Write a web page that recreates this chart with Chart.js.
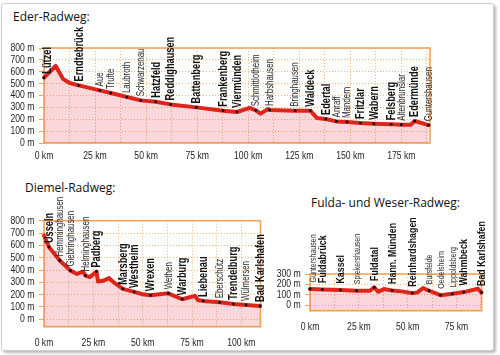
<!DOCTYPE html>
<html><head><meta charset="utf-8">
<script src="https://cdn.jsdelivr.net/npm/chart.js@4/dist/chart.umd.min.js"></script>
<style>
html,body{margin:0;padding:0;background:#fff;}
body{width:500px;height:355px;position:relative;overflow:hidden;font-family:"Open Sans",sans-serif;}
#frame{position:absolute;left:1px;top:3px;width:491px;height:346px;border:1px solid #cfcfcf;border-radius:3px;box-shadow:2px 2px 3px rgba(0,0,0,0.28);background:#fff;}
.t{position:absolute;font-size:12px;color:#111;white-space:nowrap;line-height:16px;}
canvas{position:absolute;}
</style></head><body>
<div id="frame"></div>
<div class="t" style="left:13px;top:9px">Eder-Radweg:</div>
<div class="t" style="left:25px;top:180px">Diemel-Radweg:</div>
<div class="t" style="left:311px;top:195px">Fulda- und Weser-Radweg:</div>
<canvas id="c1"></canvas>
<canvas id="c2"></canvas>
<canvas id="c3"></canvas>
<script>
// ---------- DATA ----------
// Eder-Radweg
const ederKm   = [0, 5.7, 9.3, 12.6, 17, 27.3, 32.7, 40.6, 47.4, 54.7, 62, 74.6, 87.7, 94.5, 100.7, 103.7, 106, 109.7, 110.5, 123, 130.4, 133.7, 138, 143.2, 148.4, 155, 161.5, 170, 175, 179.5, 181.5, 188.3];
const ederM    = [550, 650, 540, 505, 485, 443, 421, 387, 359, 348, 325, 300, 272, 261, 295, 275, 247, 286, 278, 272, 272, 210, 202, 182, 177, 168, 162, 157, 154, 154, 185, 150];
const ederTown = ['Lützel','','','','Erndtebrück','Aue','Trufte','Laubroth','Schwarzenau','Hatzfeld','Reddighausen','Battenberg','Frankenberg','Viermünden','','Schmittlotheim','','','Harbshausen','Bringhausen','Waldeck','','Edertal','Anraff','Mandern','Fritzlar','Wabern','Felsberg','Altenbrunslar','','Edermünde','Guntershausen'];
const ederMajor = ['Lützel','Erndtebrück','Hatzfeld','Reddighausen','Battenberg','Frankenberg','Viermünden','Waldeck','Edertal','Fritzlar','Wabern','Felsberg','Edermünde'];
const ederXTicks = [0,12.5,25,37.5,50,62.5,75,87.5,100,112.5,125,137.5,150,162.5,175,187.5];
const ederYTicks = [0,100,200,300,400,500,600,700,800];

// Diemel-Radweg
const diemelKm   = [0, 2.5, 8, 13.4, 16.7, 19.8, 21, 23.2, 26.6, 27.4, 29.9, 33, 35.9, 40, 45.7, 50, 54, 63, 70, 76.5, 78, 80.7, 89, 96, 102.4, 109.5];
const diemelM    = [680, 586, 477, 395, 368, 387, 355, 342, 387, 306, 312, 334, 293, 247, 222, 203, 195, 211, 163, 190, 157, 149, 138, 124, 116, 108];
const diemelTown = ['','Usseln','Hemminghausen','Giebringhausen','','','Helminghausen','','Padberg','','','','','Marsberg','Westheim','','Wrexen','Wethen','Warburg','','','Liebenau','Eberschütz','Trendelburg','Wülmersen','Bad Karlshafen'];
const diemelMajor = ['Usseln','Padberg','Marsberg','Westheim','Wrexen','Warburg','Liebenau','Trendelburg','Bad Karlshafen'];
const diemelXTicks = [0,12.5,25,37.5,50,62.5,75,87.5,100];
const diemelYTicks = [0,100,200,300,400,500,600,700,800];

// Fulda- und Weser-Radweg
const fuldaKm   = [0, 6.3, 15.6, 23.8, 30.7, 32.9, 35, 37.8, 42, 47, 52.4, 55, 57.9, 61, 66.8, 72.9, 78.7, 86, 87.8];
const fuldaM    = [155, 150, 145, 138, 138, 170, 128, 154, 141, 132, 115, 122, 164, 138, 95, 108, 125, 157, 121];
const fuldaTown = ['Guntershausen','Fuldabrück','Kassel','Spiekershausen','','Fuldatal','','','Hann. Münden','','Reinhardshagen','','','Bursfelde','Oedelsheim','Lippoldsberg','Wahmbeck','','Bad Karlshafen'];
const fuldaMajor = ['Fuldabrück','Kassel','Fuldatal','Hann. Münden','Reinhardshagen','Wahmbeck','Bad Karlshafen'];
const fuldaXTicks = [0,12.5,25,37.5,50,62.5,75,87.5];
const fuldaYTicks = [0,100,200,300];

// ---------- STYLE / LAYOUT ----------
const SANS = '"Liberation Sans",Arial,sans-serif';
const ORANGE = '#f5a45a';
const GRID = '#f6b77c';
const RED = '#de251c';
const FILL = 'rgba(222,45,65,0.19)';

// draw condensed text (horizontal scale along the text direction)
function narrowText(ctx, txt, x, y, rot, sx, font, color, align) {
  ctx.save();
  ctx.translate(x, y);
  if (rot) ctx.rotate(rot);
  ctx.scale(sx, 1);
  ctx.font = font; ctx.fillStyle = color;
  ctx.textAlign = align; ctx.textBaseline = 'middle';
  ctx.fillText(txt, 0, 0);
  ctx.restore();
}

function build(id, L, d) {
  const cv = document.getElementById(id);
  cv.width = L.w; cv.height = L.h;
  cv.style.left = L.cx + 'px'; cv.style.top = L.cy + 'px';
  cv.style.width = L.w + 'px'; cv.style.height = L.h + 'px';
  const pts = d.km.map((k, i) => ({x: k, y: d.m[i]}));

  const boxPlugin = {
    id: 'box' + id,
    beforeDatasetsDraw(chart) {
      const a = chart.chartArea, ctx = chart.ctx;
      ctx.save();
      ctx.strokeStyle = ORANGE; ctx.lineWidth = 1.6;
      ctx.strokeRect(a.left, a.top, a.right - a.left, a.bottom - a.top);
      ctx.restore();
    },
    afterDraw(chart) {
      const ctx = chart.ctx, xs = chart.scales.x, ys = chart.scales.y, a = chart.chartArea;
      const tf = '10.8px ' + SANS;
      ys.ticks.forEach(t => {
        narrowText(ctx, t.value + ' m', a.left - L.yGap, ys.getPixelForValue(t.value), 0, 0.8, tf, '#1e1e1e', 'right');
      });
      xs.ticks.forEach(t => {
        if (t.value % 25 !== 0) return;
        narrowText(ctx, t.value + ' km', xs.getPixelForValue(t.value), a.bottom + L.xDy, 0, 0.8, tf, '#1e1e1e', 'center');
      });
    }
  };
  const labelPlugin = {
    id: 'towns' + id,
    afterDatasetsDraw(chart) {
      const ctx = chart.ctx, xs = chart.scales.x, ys = chart.scales.y;
      d.town.forEach((name, i) => {
        if (!name) return;
        const major = d.major.includes(name);
        let px = xs.getPixelForValue(d.km[i]);
        if (px < chart.chartArea.left + 3) px = chart.chartArea.left + 3;
        const py = ys.getPixelForValue(d.m[i]);
        if (major) {
          narrowText(ctx, name, px + 0.5, py - L.gap, -Math.PI / 2, L.majorScale, 'bold ' + L.majorSize + 'px ' + SANS, '#111', 'left');
        } else {
          narrowText(ctx, name, px + 0.5, py - L.gap, -Math.PI / 2, L.minorScale, L.minorSize + 'px ' + SANS, '#2a2a2a', 'left');
        }
      });
    }
  };

  new Chart(cv, {
    type: 'line',
    data: {datasets: [{
      data: pts,
      borderColor: RED, borderWidth: 4,
      backgroundColor: FILL, fill: 'start', tension: 0,
      borderJoinStyle: 'round', borderCapStyle: 'round',
      pointRadius: d.town.map(t => t ? 1.4 : 0),
      pointBackgroundColor: '#000', pointBorderWidth: 0,
      clip: 4
    }]},
    options: {
      responsive: false, animation: false, events: [],
      layout: {padding: {top: L.top - L.cy, right: L.cx + L.w - L.right, left: 0, bottom: 0}},
      plugins: {legend: {display: false}, tooltip: {enabled: false}, title: {display: false}},
      scales: {
        x: {
          type: 'linear', min: 0, max: d.xMax,
          afterBuildTicks: s => { s.ticks = d.xTicks.map(v => ({value: v})); },
          afterFit: s => { s.height = L.cy + L.h - L.bottom; },
          grid: {color: GRID, lineWidth: 1, drawTicks: false},
          border: {display: false, dash: [1, 2]},
          ticks: {display: false, autoSkip: false}
        },
        y: {
          type: 'linear', min: d.yMin, max: d.yMax,
          afterBuildTicks: s => { s.ticks = d.yTicks.map(v => ({value: v})); },
          afterFit: s => { s.width = L.left - L.cx; },
          grid: {color: GRID, lineWidth: 1, drawTicks: true, tickLength: 5, tickColor: ORANGE, tickBorderDash: []},
          border: {display: false, dash: [1, 2]},
          ticks: {display: false, autoSkip: false}
        }
      }
    },
    plugins: [boxPlugin, labelPlugin]
  });
}

build('c1',
  {cx: 0, cy: 0, w: 500, h: 172, left: 44, top: 48, right: 430, bottom: 143, yGap: 9.5, xDy: 12.7, gap: 4, majorSize: 12, majorScale: 0.77, minorSize: 10, minorScale: 0.79},
  {km: ederKm, m: ederM, town: ederTown, major: ederMajor, xTicks: ederXTicks, yTicks: ederYTicks, xMax: 189, yMin: 0, yMax: 800});

build('c2',
  {cx: 0, cy: 172, w: 275, h: 183, left: 44, top: 220.7, right: 260.5, bottom: 326.7, yGap: 9.5, xDy: 16.6, gap: 4, majorSize: 12, majorScale: 0.77, minorSize: 10, minorScale: 0.79},
  {km: diemelKm, m: diemelM, town: diemelTown, major: diemelMajor, xTicks: diemelXTicks, yTicks: diemelYTicks, xMax: 109.7, yMin: -60, yMax: 800});

build('c3',
  {cx: 260, cy: 205, w: 240, h: 150, left: 310, top: 274, right: 481.7, bottom: 310.7, yGap: 9.3, xDy: 16, gap: 6.5, majorSize: 11.5, majorScale: 0.77, minorSize: 9.5, minorScale: 0.74},
  {km: fuldaKm, m: fuldaM, town: fuldaTown, major: fuldaMajor, xTicks: fuldaXTicks, yTicks: fuldaYTicks, xMax: 87.9, yMin: -55, yMax: 300});
</script>
</body></html>
